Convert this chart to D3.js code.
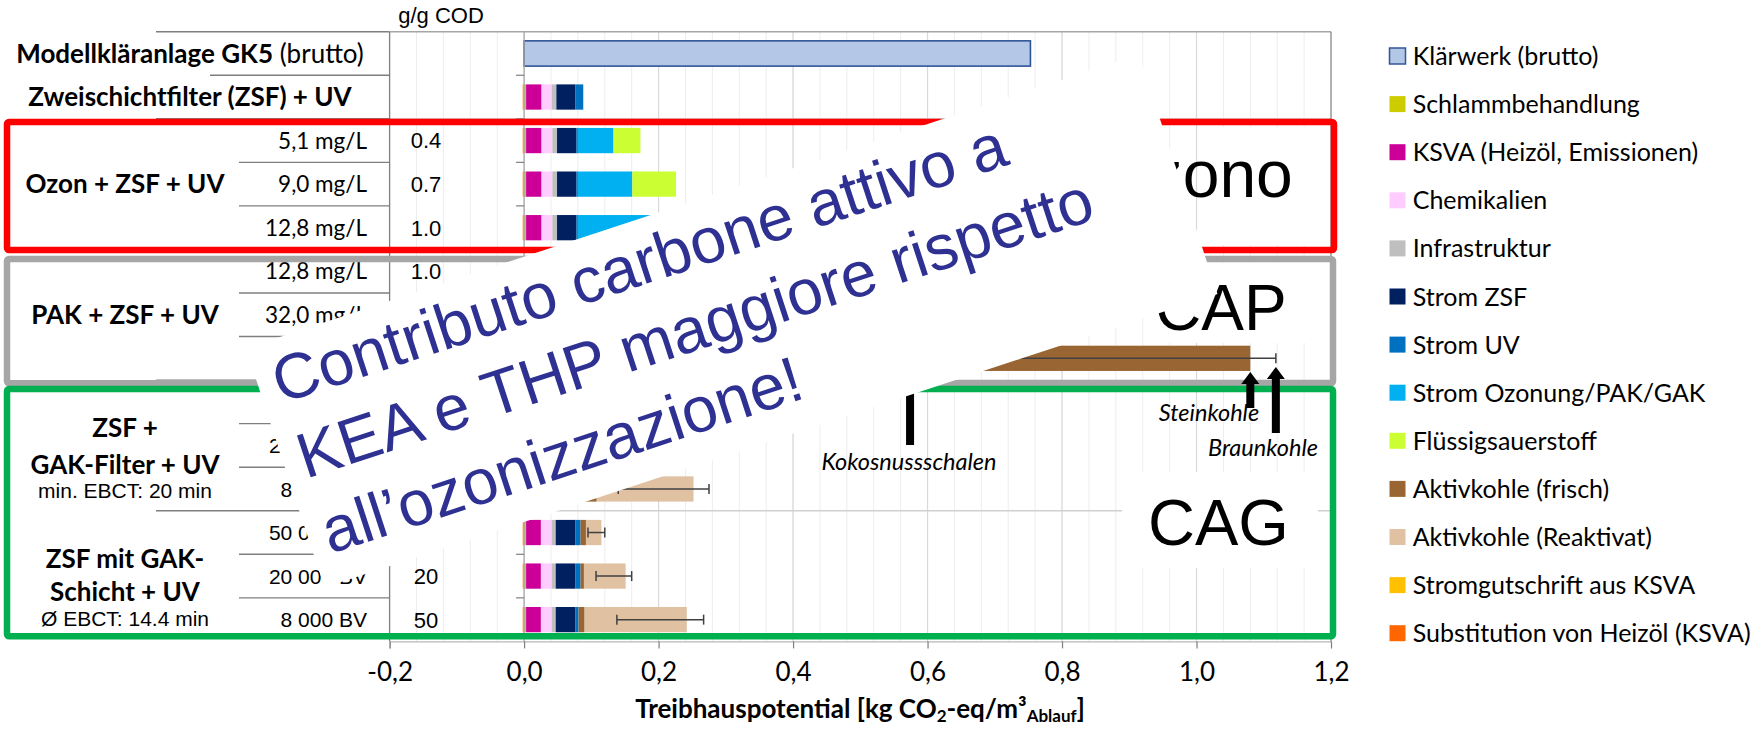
<!DOCTYPE html>
<html><head><meta charset="utf-8">
<script src="https://cdn.jsdelivr.net/npm/d3@7"></script>
<style>body{margin:0;background:#fff;overflow:hidden}</style>
</head><body>
<svg id="c" width="1762" height="730"></svg>
<script>
// ---------------- DATA ----------------
const categories = ["Modellkläranlage GK5 (brutto)","Zweischichtfilter (ZSF) + UV",
  "Ozon 5,1 mg/L","Ozon 9,0 mg/L","Ozon 12,8 mg/L",
  "PAK 12,8 mg/L","PAK 32,0 mg/L","PAK (3)",
  "GAK-Filter 50 000 BV","GAK-Filter 20 000 BV","GAK-Filter 8 000 BV",
  "GAK-Schicht 50 000 BV","GAK-Schicht 20 000 BV","GAK-Schicht 8 000 BV"];
const rowLabels = ["","","5,1 mg/L","9,0 mg/L","12,8 mg/L","12,8 mg/L","32,0 mg/L","",
  "50 000 BV","20 000 BV","8 000 BV","50 000 BV","20 000 BV","8 000 BV"];
const codValues = ["","","0.4","0.7","1.0","1.0","2.5","","8","20","50","8","20","50"];

const seriesNames = ["Klärwerk (brutto)","Schlammbehandlung","KSVA (Heizöl, Emissionen)","Chemikalien",
  "Infrastruktur","Strom ZSF","Strom UV","Strom Ozonung/PAK/GAK","Flüssigsauerstoff",
  "Aktivkohle (frisch)","Aktivkohle (Reaktivat)","Stromgutschrift aus KSVA","Substitution von Heizöl (KSVA)"];
const seriesColors = ["#B4C7E7","#CCCC00","#CC0099","#FFCCFF","#BFBFBF","#002060","#0070C0",
  "#00B0F0","#CCFF33","#996633","#E0C2A2","#FFC000","#FF6600"];

const klaerwerk = [0.753,0,0,0,0,0,0,0,0,0,0,0,0,0];
const schlamm   = [0,0.003,0.003,0.003,0.003,0.003,0.003,0.003,0.003,0.003,0.003,0.003,0.003,0.003];
const ksva      = [0,0.023,0.023,0.023,0.023,0.023,0.023,0.023,0.022,0.022,0.022,0.022,0.022,0.022];
const chem      = [0,0.015,0.016,0.016,0.016,0.016,0.016,0.016,0.016,0.016,0.016,0.016,0.016,0.016];
const infra     = [0,0.007,0.007,0.007,0.007,0.007,0.007,0.007,0.006,0.006,0.006,0.006,0.006,0.006];
const stromZSF  = [0,0.028,0.029,0.029,0.029,0.029,0.029,0.029,0.029,0.029,0.029,0.029,0.029,0.029];
const stromUV   = [0,0.012,0.002,0.002,0.002,0.008,0.008,0.008,0.008,0.008,0.006,0.008,0.008,0.005];
const stromOzon = [0,0,0.053,0.081,0.115,0.010,0.015,0.015,0,0,0,0,0,0];
const sauerstoff= [0,0,0.040,0.065,0.085,0,0,0,0,0,0,0,0,0];
const akFrisch  = [0,0,0,0,0,0.320,0.600,0.979,0.010,0.015,0.026,0.008,0.005,0.009];
const akReakt   = [0,0,0,0,0,0,0,0,0.030,0.060,0.144,0.023,0.062,0.152];
const stromGut  = [0,-0.001,-0.001,-0.001,-0.001,-0.001,-0.001,-0.001,-0.001,-0.001,-0.001,-0.001,-0.001,-0.001];
const substHeiz = [0,-0.001,-0.001,-0.001,-0.001,-0.001,-0.001,-0.001,-0.001,-0.001,-0.001,-0.001,-0.001,-0.001];

const errLow  = [null,null,null,null,null,0.30,0.55,0.574,0.10,0.13,0.14,0.095,0.107,0.138];
const errHigh = [null,null,null,null,null,0.50,0.82,1.118,0.14,0.18,0.275,0.120,0.160,0.267];

const annotations = [{label:"Kokosnussschalen", value:0.574},{label:"Steinkohle", value:1.08},{label:"Braunkohle", value:1.118}];
const xTickValues = [-0.2,0,0.2,0.4,0.6,0.8,1.0,1.2];

// ---------------- SETUP ----------------
const svg = d3.select("#c");
const CAL = "Lato, 'Open Sans', sans-serif";
const ARI = "'Liberation Sans', Arial, sans-serif";
const x = d3.scaleLinear().domain([-0.2,1.2]).range([389.6,1331]);
const y = d3.scaleBand().domain(categories).range([31.7,641.4]).paddingInner(0.42).paddingOuter(0.21);
const step = y.step();
const top0 = 31.7;
const boundary = k => top0 + k*step;
const yc = i => y(categories[i]) + y.bandwidth()/2;

// gridlines
const minor = d3.range(36).map(i => -0.2 + i*0.04);
svg.append("g").selectAll("line").data(minor).join("line")
  .attr("x1", d=>x(d)).attr("x2", d=>x(d)).attr("y1", top0).attr("y2", boundary(14))
  .attr("stroke","#EDEDED").attr("stroke-width",1);
svg.append("g").selectAll("line").data(x.ticks(7).filter(d=>d>0.01 && d<1.19)).join("line")
  .attr("x1", d=>x(d)).attr("x2", d=>x(d)).attr("y1", top0).attr("y2", boundary(14))
  .attr("stroke","#D9D9D9").attr("stroke-width",1.2);

// table / group lines
const gl = svg.append("g");
[0,2,5,8,11].forEach(k=>{
  gl.append("line").attr("x1",156).attr("x2",389.6).attr("y1",boundary(k)).attr("y2",boundary(k)).attr("stroke","#7F7F7F").attr("stroke-width",1.4);
  gl.append("line").attr("x1",389.6).attr("x2",1331).attr("y1",boundary(k)).attr("y2",boundary(k)).attr("stroke",k===0?"#A6A6A6":"#D0D0D0").attr("stroke-width",1.4);
});
gl.append("line").attr("x1",210).attr("x2",389.6).attr("y1",boundary(1)).attr("y2",boundary(1)).attr("stroke","#7F7F7F").attr("stroke-width",1.4);
[3,4,6,7,9,10,12,13].forEach(k=>{
  gl.append("line").attr("x1",239).attr("x2",389.6).attr("y1",boundary(k)).attr("y2",boundary(k)).attr("stroke","#7F7F7F").attr("stroke-width",1.4);
});
// vertical frame lines
gl.append("line").attr("x1",x(-0.2)).attr("x2",x(-0.2)).attr("y1",top0).attr("y2",boundary(14)).attr("stroke","#7F7F7F").attr("stroke-width",1.3);
gl.append("line").attr("x1",x(1.2)).attr("x2",x(1.2)).attr("y1",top0).attr("y2",boundary(14)).attr("stroke","#8C8C8C").attr("stroke-width",1.3);

// ---------------- BARS ----------------
const seriesData = [klaerwerk,schlamm,ksva,chem,infra,stromZSF,stromUV,stromOzon,sauerstoff,akFrisch,akReakt,stromGut,substHeiz];
const table = categories.map((c,i)=>{const o={cat:c}; seriesNames.forEach((s,j)=>o[s]=seriesData[j][i]); return o;});
const stacked = d3.stack().keys(seriesNames).offset(d3.stackOffsetDiverging)(table);
const barsG = svg.append("g");
stacked.forEach((layer,li)=>{
  barsG.append("g").selectAll("rect").data(layer.filter(d=>Math.abs(d[1]-d[0])>1e-9)).join("rect")
    .attr("x", d=>x(Math.min(d[0],d[1])))
    .attr("width", d=>Math.abs(x(d[1])-x(d[0])))
    .attr("y", d=>y(d.data.cat)).attr("height", y.bandwidth())
    .attr("fill", seriesColors[li])
    .attr("stroke", li===0 ? "#2F5597" : "none").attr("stroke-width", li===0?1.6:0);
});
// error bars
const eg = svg.append("g").attr("stroke","#404040").attr("stroke-width",1.5);
categories.forEach((c,i)=>{
  if(errLow[i]==null) return;
  const cy = yc(i);
  eg.append("line").attr("x1",x(errLow[i])).attr("x2",x(errHigh[i])).attr("y1",cy).attr("y2",cy);
  [errLow[i],errHigh[i]].forEach(v=>eg.append("line").attr("x1",x(v)).attr("x2",x(v)).attr("y1",cy-5).attr("y2",cy+5));
});

// category axis
svg.append("line").attr("x1",x(0)).attr("x2",x(0)).attr("y1",top0).attr("y2",boundary(14)).attr("stroke","#A6A6A6").attr("stroke-width",1.3);
svg.append("g").selectAll("line").data(d3.range(1,14)).join("line")
  .attr("x1",x(0)-8).attr("x2",x(0)).attr("y1",k=>boundary(k)).attr("y2",k=>boundary(k))
  .attr("stroke","#7F7F7F").attr("stroke-width",1.2);

// x axis
const fmt = v => (v<-1e-9?"-":"") + Math.abs(v).toFixed(1).replace(".",",");
const xa = svg.append("g").attr("transform",`translate(0,${boundary(14)})`)
  .call(d3.axisBottom(x).tickValues(xTickValues).tickSize(7).tickPadding(14).tickFormat(fmt));
xa.select(".domain").attr("stroke","#A6A6A6");
xa.selectAll(".tick line").attr("stroke","#7F7F7F").attr("stroke-width",1.2);
xa.selectAll(".tick text").attr("font-family",CAL).attr("font-size",26).attr("fill","#000");

// title
const tt = svg.append("text").attr("x",860).attr("y",718).attr("text-anchor","middle")
  .attr("font-family",CAL).attr("font-size",26).attr("font-weight","bold");
tt.append("tspan").text("Treibhauspotential [kg CO");
tt.append("tspan").attr("font-size",17).attr("dy",4).text("2");
tt.append("tspan").attr("dy",-4).text("-eq/m³");
tt.append("tspan").attr("font-size",17).attr("dy",4).text("Ablauf");
tt.append("tspan").attr("dy",-4).text("]");

// ---------------- TABLE TEXT ----------------
svg.append("text").attr("x",441).attr("y",23).attr("text-anchor","middle")
  .attr("font-family",ARI).attr("font-size",22).text("g/g COD");
const t0 = svg.append("text").attr("x",190).attr("y",yc(0)).attr("dy","0.36em").attr("text-anchor","middle")
  .attr("font-family",CAL).attr("font-size",26);
t0.append("tspan").attr("font-weight","bold").text("Modellkläranlage GK5");
t0.append("tspan").text(" (brutto)");
svg.append("text").attr("x",190).attr("y",yc(1)).attr("dy","0.36em").attr("text-anchor","middle")
  .attr("font-family",CAL).attr("font-size",26).attr("font-weight","bold").text("Zweischichtfilter (ZSF) + UV");

const groupText = [
  {t:"Ozon + ZSF + UV", y:yc(3), bold:true},
  {t:"PAK + ZSF + UV", y:yc(6), bold:true},
  {t:"ZSF +", y:428, bold:true},
  {t:"GAK-Filter + UV", y:465, bold:true},
  {t:"min. EBCT: 20 min", y:490, bold:false},
  {t:"ZSF mit GAK-", y:559, bold:true},
  {t:"Schicht + UV", y:592, bold:true},
  {t:"Ø EBCT: 14.4 min", y:618, bold:false}
];
groupText.forEach(g=>{
  svg.append("text").attr("x",125).attr("y",g.y).attr("dy","0.36em").attr("text-anchor","middle")
    .attr("font-family", g.bold?CAL:ARI).attr("font-size", g.bold?26:21)
    .attr("font-weight", g.bold?"bold":"normal").text(g.t);
});
rowLabels.forEach((l,i)=>{
  if(!l) return;
  const isBV = i>=8;
  svg.append("text").attr("x",367).attr("y",yc(i)).attr("dy","0.36em").attr("text-anchor","end")
    .attr("font-family", isBV?ARI:CAL).attr("font-size", isBV?21:22.5).text(l);
});
codValues.forEach((v,i)=>{
  if(!v) return;
  svg.append("text").attr("x",426).attr("y",yc(i)).attr("dy","0.36em").attr("text-anchor","middle")
    .attr("font-family",ARI).attr("font-size",22).text(v);
});

// ---------------- GROUP BOXES ----------------
const boxes = [
  {x0:7,y0:122,x1:1334,y1:250,c:"#FF0000"},
  {x0:7,y0:259,x1:1333,y1:383.3,c:"#A6A6A6"},
  {x0:7,y0:389,x1:1333,y1:636.3,c:"#00B050"}
];
boxes.forEach(b=>svg.append("rect").attr("x",b.x0).attr("y",b.y0).attr("width",b.x1-b.x0).attr("height",b.y1-b.y0)
  .attr("rx",2).attr("fill","none").attr("stroke",b.c).attr("stroke-width",6.5));

// labels with white boxes
const bigLabels = [
  {t:"ozono", x:1113, y:197, fs:66, bx:[1205,127,1318,245]},
  {t:"CAP", x:1155, y:330, fs:64, bx:[1150,263,1318,343]},
  {t:"CAG", x:1148, y:545, fs:65, bx:[1122,472,1318,568]}
];
bigLabels.forEach(l=>{
  svg.append("rect").attr("x",l.bx[0]).attr("y",l.bx[1]).attr("width",l.bx[2]-l.bx[0]).attr("height",l.bx[3]-l.bx[1]).attr("fill","#fff");
  svg.append("text").attr("x",l.x).attr("y",l.y).attr("font-family",ARI).attr("font-size",l.fs).attr("fill","#000").text(l.t);
});

// ---------------- ANNOTATION ARROWS ----------------
const arrowSpec = [
  {tipY:372, bottom:445, lx:909, ly:470},
  {tipY:372, bottom:408, lx:1209, ly:421},
  {tipY:367, bottom:433, lx:1263, ly:456}
];
annotations.forEach((a,i)=>{
  const s = arrowSpec[i], tx = x(a.value);
  const pts = [[tx,s.tipY],[tx+9,s.tipY+12],[tx+4,s.tipY+12],[tx+4,s.bottom],[tx-4,s.bottom],[tx-4,s.tipY+12],[tx-9,s.tipY+12]];
  svg.append("polygon").attr("points",pts.map(p=>p.join(",")).join(" ")).attr("fill","#000");
  svg.append("text").attr("x",s.lx).attr("y",s.ly).attr("text-anchor","middle").attr("font-family",CAL)
    .attr("font-style","italic").attr("font-size",23.5).text(a.label);
});

// ---------------- OVERLAY NOTE ----------------
const ov = svg.append("g").attr("transform","translate(281,404) rotate(-18.2)");
ov.append("rect").attr("x",-16).attr("y",-64).attr("width",940).attr("height",252).attr("fill","#fff");
const noteLines = ["Contributo carbone attivo a","KEA e THP maggiore rispetto","all’ozonizzazione!"];
noteLines.forEach((t,i)=>ov.append("text").attr("x",0).attr("y",i*79).attr("font-family",ARI)
  .attr("font-size",64).attr("fill","#2E3192").text(t));

// ---------------- LEGEND ----------------
const lg = svg.append("g");
seriesNames.forEach((s,i)=>{
  const cy = 56 + i*48.1;
  lg.append("rect").attr("x",1389.5).attr("y",cy-8).attr("width",16).attr("height",16)
    .attr("fill",seriesColors[i]).attr("stroke", i===0?"#2F5597":"none").attr("stroke-width",i===0?1.5:0);
  lg.append("text").attr("x",1412.7).attr("y",cy).attr("dy","0.36em").attr("font-family",CAL)
    .attr("font-size",25).text(s);
});
</script>
</body></html>
